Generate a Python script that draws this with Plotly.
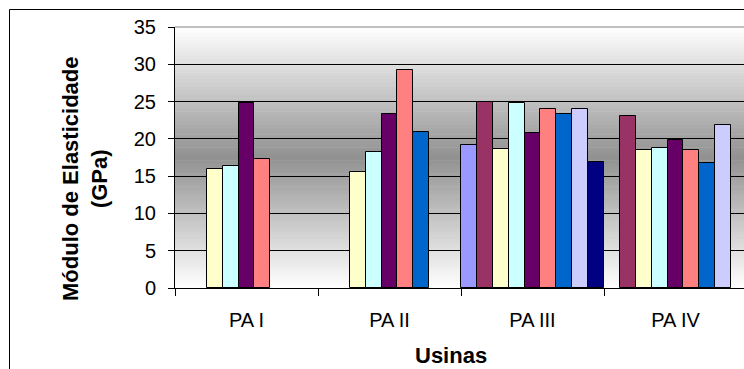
import plotly.graph_objects as go

# Category labels (power plants) and per-sample elastic modulus values (GPa)
categories = ["PA I", "PA II", "PA III", "PA IV"]
s1 = [None, None, 19.2, None]
s2 = [None, None, 25.0, 23.1]
s3 = [15.9, 15.6, 18.6, 18.5]
s4 = [16.3, 18.2, 24.8, 18.8]
s5 = [24.8, 23.3, 20.8, 19.9]
s6 = [17.3, 29.3, 24.0, 18.5]
s7 = [None, 20.9, 23.3, 16.8]
s8 = [None, None, 24.0, 21.8]
s9 = [None, None, 16.9, None]
series = [s1, s2, s3, s4, s5, s6, s7, s8, s9]
series_names = [f"Série {i}" for i in range(1, 10)]
series_colors = ["#9999FF", "#993366", "#FFFFCC", "#CCFFFF", "#660066",
                 "#FF8080", "#0066CC", "#CCCCFF", "#000080"]
y_ticks = [0, 5, 10, 15, 20, 25, 30, 35]

W, H = 744, 369
L, R, T, B = 175, 0, 27, 81
FONT = "Liberation Sans, Arial, sans-serif"

fig = go.Figure()
for name, vals, col in zip(series_names, series, series_colors):
    fig.add_trace(go.Bar(
        x=categories, y=vals, name=name,
        marker=dict(color=col, line=dict(color="black", width=1)),
        hoverinfo="x+y",
    ))

# vertical grey gradient in the plot area: light at the edges, darker in the middle
shapes = []
N = 80
for i in range(N):
    t = (i + 0.5) / N
    d = 1 - abs(2 * t - 1)
    g = int(round(255 - (255 - 145) * d))
    shapes.append(dict(type="rect", xref="x domain", yref="y domain",
                       x0=0, x1=1, y0=i / N, y1=(i + 1) / N + 0.002,
                       fillcolor=f"rgb({g},{g},{g})", line=dict(width=0),
                       layer="below"))

# top edge of the plot area
shapes.append(dict(type="line", xref="x domain", yref="y domain",
                   x0=0, x1=1, y0=1, y1=1, line=dict(color="#808080", width=1)))


def px_x(px):
    return (px - L) / (W - L - R)


def px_y(py):
    return (H - B - py) / (H - T - B)


# outer chart border (top and left edges)
bx, by = px_x(9.5), px_y(9.5)
shapes.append(dict(type="line", xref="paper", yref="paper",
                   x0=bx, x1=1.2, y0=by, y1=by, line=dict(color="black", width=1)))
shapes.append(dict(type="line", xref="paper", yref="paper",
                   x0=bx, x1=bx, y0=by, y1=-0.5, line=dict(color="black", width=1)))

annotations = [
    dict(text="<b>Usinas</b>", xref="paper", yref="paper",
         x=px_x(451), y=px_y(355), xanchor="center", yanchor="middle",
         showarrow=False, font=dict(family=FONT, size=22, color="black")),
    dict(text="<b>Módulo de Elasticidade<br>(GPa)</b>", xref="paper", yref="paper",
         x=px_x(85), y=px_y(179), xanchor="center", yanchor="middle",
         textangle=-90, showarrow=False,
         font=dict(family=FONT, size=22, color="black")),
]

fig.update_layout(
    width=W, height=H,
    margin=dict(l=L, r=R, t=T, b=B, pad=0),
    barmode="group", bargap=0, bargroupgap=0,
    showlegend=False,
    paper_bgcolor="white", plot_bgcolor="white",
    font=dict(family=FONT, color="black"),
    shapes=shapes, annotations=annotations,
    xaxis=dict(
        type="category", range=[-0.5, -0.5 + (W - L) / 143.0],
        showline=True, linecolor="black", linewidth=1,
        ticks="outside", tickson="boundaries", ticklen=7,
        tickcolor="black", tickwidth=1,
        tickfont=dict(family=FONT, size=20, color="black"),
        ticklabelstandoff=14,
        showgrid=False, zeroline=False,
    ),
    yaxis=dict(
        range=[0, 35], tickvals=y_ticks,
        showline=True, linecolor="black", linewidth=1,
        ticks="outside", ticklen=6, tickcolor="black", tickwidth=1,
        tickfont=dict(family=FONT, size=20, color="black"),
        ticklabelstandoff=8,
        showgrid=True, gridcolor="black", gridwidth=1,
        zeroline=False,
    ),
)

fig.write_html("out.html")
